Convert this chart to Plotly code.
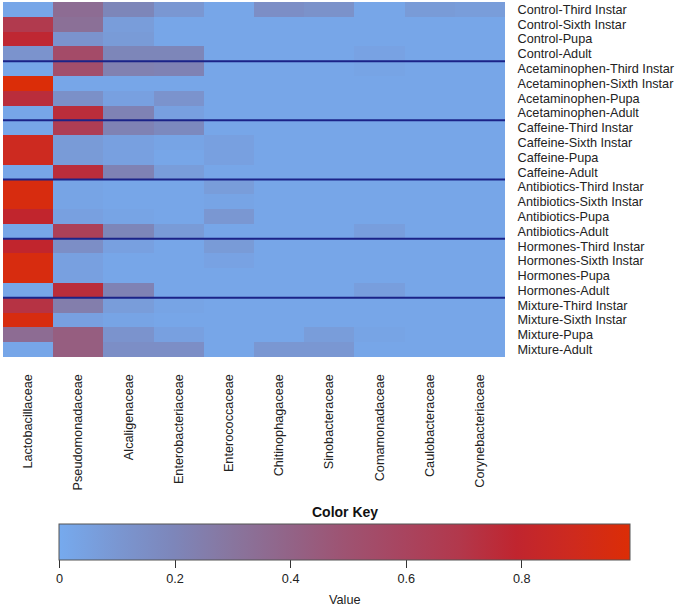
import plotly.graph_objects as go

groups = ["Control", "Acetaminophen", "Caffeine", "Antibiotics", "Hormones", "Mixture"]
stages = ["Third Instar", "Sixth Instar", "Pupa", "Adult"]
row_labels = [f"{g}-{s}" for g in groups for s in stages]

families = ["Lactobacillaceae", "Pseudomonadaceae", "Alcaligenaceae", "Enterobacteriaceae",
            "Enterococcaceae", "Chitinophagaceae", "Sinobacteraceae", "Comamonadaceae",
            "Caulobacteraceae", "Corynebacteriaceae"]

lactobacillaceae = [0.02, 0.68, 0.78, 0.12, 0.02, 0.98, 0.75, 0.02, 0.02, 0.88, 0.88, 0.02,
                    0.95, 0.95, 0.80, 0.02, 0.80, 0.95, 0.95, 0.02, 0.72, 0.95, 0.35, 0.02]
pseudomonadaceae = [0.35, 0.33, 0.12, 0.55, 0.53, 0.02, 0.14, 0.75, 0.65, 0.08, 0.08, 0.75,
                    0.03, 0.03, 0.05, 0.63, 0.15, 0.05, 0.05, 0.75, 0.25, 0.05, 0.43, 0.43]
alcaligenaceae = [0.20, 0.07, 0.08, 0.20, 0.23, 0.02, 0.05, 0.22, 0.22, 0.05, 0.05, 0.22,
                  0.02, 0.02, 0.03, 0.20, 0.05, 0.02, 0.02, 0.22, 0.07, 0.03, 0.12, 0.15]
enterobacteriaceae = [0.10, 0.02, 0.02, 0.20, 0.22, 0.02, 0.12, 0.05, 0.18, 0.03, 0.02, 0.07,
                      0.02, 0.02, 0.02, 0.08, 0.02, 0.02, 0.02, 0.02, 0.03, 0.02, 0.05, 0.15]
enterococcaceae = [0.02, 0.02, 0.02, 0.02, 0.02, 0.02, 0.02, 0.02, 0.02, 0.05, 0.05, 0.02,
                   0.07, 0.03, 0.10, 0.02, 0.08, 0.04, 0.02, 0.02, 0.02, 0.02, 0.02, 0.02]
chitinophagaceae = [0.15, 0.02, 0.02, 0.02, 0.02, 0.02, 0.02, 0.02, 0.02, 0.02, 0.02, 0.02,
                    0.02, 0.02, 0.02, 0.02, 0.02, 0.02, 0.02, 0.02, 0.02, 0.02, 0.02, 0.10]
sinobacteraceae = [0.13, 0.02, 0.02, 0.02, 0.02, 0.02, 0.02, 0.02, 0.02, 0.02, 0.02, 0.02,
                   0.02, 0.02, 0.02, 0.02, 0.02, 0.02, 0.02, 0.02, 0.02, 0.02, 0.07, 0.10]
comamonadaceae = [0.02, 0.02, 0.02, 0.04, 0.03, 0.02, 0.02, 0.02, 0.02, 0.02, 0.02, 0.02,
                  0.02, 0.02, 0.02, 0.06, 0.02, 0.02, 0.02, 0.06, 0.02, 0.02, 0.03, 0.02]
caulobacteraceae = [0.08, 0.02, 0.02, 0.02, 0.02, 0.02, 0.02, 0.02, 0.02, 0.02, 0.02, 0.02,
                    0.02, 0.02, 0.02, 0.02, 0.02, 0.02, 0.02, 0.02, 0.02, 0.02, 0.02, 0.02]
corynebacteriaceae = [0.07, 0.02, 0.02, 0.02, 0.02, 0.02, 0.02, 0.02, 0.02, 0.02, 0.02, 0.02,
                      0.02, 0.02, 0.02, 0.02, 0.02, 0.02, 0.02, 0.02, 0.02, 0.02, 0.02, 0.02]

columns = [lactobacillaceae, pseudomonadaceae, alcaligenaceae, enterobacteriaceae,
           enterococcaceae, chitinophagaceae, sinobacteraceae, comamonadaceae,
           caulobacteraceae, corynebacteriaceae]
z = [[col[i] for col in columns] for i in range(len(row_labels))]

key_ticks = [0, 0.2, 0.4, 0.6, 0.8]
zmax = 0.988

colorscale = [
    [0.0, "#76AAEE"],
    [0.1, "#7A97D2"],
    [0.2, "#7D86BA"],
    [0.3, "#88769F"],
    [0.4, "#926488"],
    [0.5, "#9E5372"],
    [0.6, "#A84560"],
    [0.7, "#B2384C"],
    [0.8, "#C0252F"],
    [0.9, "#CE2A1E"],
    [1.0, "#DC2D06"],
]

W, H = 677, 607
FONT = "Liberation Sans, Arial, sans-serif"
FS = 12.7

fig = go.Figure(go.Heatmap(
    z=z, x=families, y=row_labels,
    zmin=0, zmax=zmax, colorscale=colorscale,
    colorbar=dict(
        orientation="h",
        x=345 / W, xanchor="center",
        y=1 - 524 / H, yanchor="top",
        len=571, lenmode="pixels",
        thickness=36, thicknessmode="pixels",
        xpad=0, ypad=0,
        outlinecolor="#555555", outlinewidth=1,
        tickvals=key_ticks, ticktext=[f"{t:g}" for t in key_ticks],
        ticks="outside", ticklen=8, tickcolor="#333333",
        tickfont=dict(family=FONT, size=FS, color="#222222"),
    ),
))

fig.update_layout(
    width=W, height=H,
    margin=dict(l=0, r=0, t=0, b=0, autoexpand=False),
    paper_bgcolor="white", plot_bgcolor="white",
    font=dict(family=FONT, size=FS, color="#222222"),
    xaxis=dict(domain=[3 / W, 505 / W], side="bottom", tickangle=-90, automargin=False,
               tickmode="array", tickvals=families,
               ticks="outside", ticklen=11, tickcolor="rgba(0,0,0,0)",
               showgrid=False, zeroline=False, showline=False,
               tickfont=dict(family=FONT, size=FS, color="#222222")),
    yaxis=dict(domain=[1 - 357 / H, 1 - 2 / H], side="right", autorange="reversed",
               automargin=False, tickmode="array", tickvals=row_labels,
               ticks="outside", ticklen=9, tickcolor="rgba(0,0,0,0)",
               showgrid=False, zeroline=False, showline=False,
               tickfont=dict(family=FONT, size=FS, color="#222222")),
)

n_stages = len(stages)
for g in range(1, len(groups)):
    yb = g * n_stages - 0.5
    fig.add_shape(type="line", xref="x domain", yref="y", x0=0, x1=1, y0=yb, y1=yb,
                  line=dict(color="#1B2388", width=2))

fig.add_annotation(text="<b>Color Key</b>", xref="paper", yref="paper",
                   x=345 / W, y=1 - 512 / H, yanchor="middle", showarrow=False,
                   font=dict(family=FONT, size=14, color="#111111"))
fig.add_annotation(text="Value", xref="paper", yref="paper",
                   x=345 / W, y=1 - 600 / H, yanchor="middle", showarrow=False,
                   font=dict(family=FONT, size=FS, color="#222222"))

fig.write_html("out.html", config={"displayModeBar": False},
               post_script="document.body.style.margin='0';")
